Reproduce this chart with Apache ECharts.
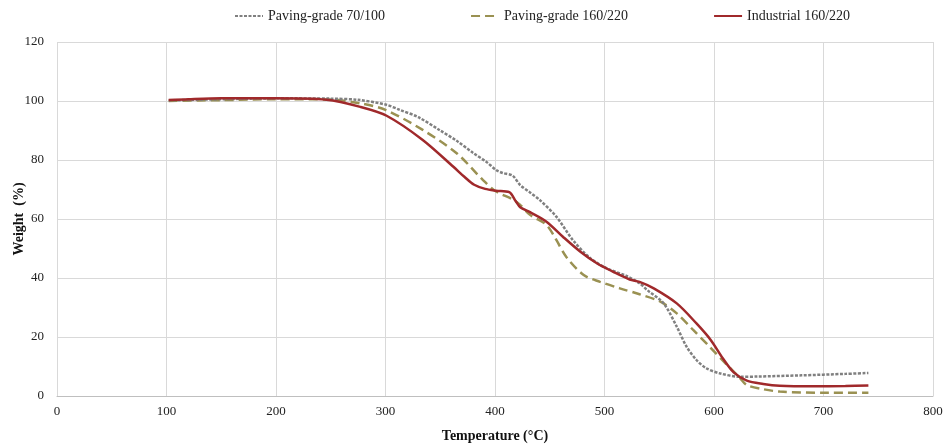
<!DOCTYPE html>
<html>
<head>
<meta charset="utf-8">
<script src="https://cdn.jsdelivr.net/npm/echarts@6/dist/echarts.min.js"></script>
<style>
    html, body { margin: 0; padding: 0; background: #fff; }
    #chart { width: 944px; height: 446px; }
</style>
</head>
<body>
<div id="chart"></div>
<script>
// TGA curves
const seriesNames = ['Paving-grade 70/100', 'Paving-grade 160/220', 'Industrial 160/220']

const tempPaving70 = [102, 150, 200, 250, 275, 300, 313, 330, 350, 365, 380, 392, 401, 407, 416, 423, 432, 441, 456, 471, 487, 502, 520, 532, 539, 554, 566, 575, 584, 593, 605, 624, 640, 680, 720, 741]
const weightPaving70 = [100.2, 100.6, 100.9, 100.8, 100.4, 98.8, 97, 94.5, 90, 86.5, 82.4, 79.4, 76.6, 75.6, 74.7, 71.5, 69, 66.4, 60.8, 52.9, 46.7, 43.3, 40.7, 38.2, 35.9, 31.4, 23.5, 16.7, 12.2, 9.4, 7.7, 6.5, 6.6, 7, 7.5, 7.8]

const tempPaving160 = [102, 150, 200, 250, 277, 300, 334, 365, 389, 401, 416, 423, 432, 447, 456, 465, 481, 496, 514, 532, 551, 566, 581, 596, 612, 624, 630, 645, 660, 700, 741]
const weightPaving160 = [100, 100.3, 100.6, 100.5, 99.2, 97, 90.2, 82.3, 73.2, 69.3, 66.7, 64.8, 61.4, 58, 52.9, 47.2, 41, 38.7, 36.5, 34.5, 32, 28, 22.4, 16.7, 10.5, 6, 3.7, 2.3, 1.5, 1.1, 1.1]

const tempIndustrial = [102, 120, 150, 200, 246, 277, 301, 334, 362, 372, 381, 391, 401, 413, 419, 423, 432, 447, 462, 478, 493, 508, 523, 532, 545, 566, 584, 597, 608, 618, 630, 645, 660, 690, 720, 741]
const weightIndustrial = [100.3, 100.6, 100.9, 100.9, 100.4, 98, 95, 86.8, 77.7, 74.3, 71.6, 70.2, 69.6, 69.1, 66, 64, 62.3, 59.1, 54, 48.9, 45, 42.1, 39.5, 38.7, 36.5, 31.4, 24.6, 19, 12.8, 8, 5.2, 4.1, 3.5, 3.3, 3.4, 3.6]

const xTicks = { min: 0, max: 800, interval: 100 }
const yTicks = { min: 0, max: 120, interval: 20 }

const pair = (xs, ys) => xs.map((x, i) => [x, ys[i]])

const font = '"Liberation Serif", "Times New Roman", serif'

const chart = echarts.init(document.getElementById('chart'))
chart.setOption({
    animation: false,
    textStyle: { fontFamily: font },
    legend: {
        top: 4,
        left: 229,
        itemGap: 85,
        itemWidth: 28,
        itemHeight: 10,
        itemStyle: { opacity: 0 },
        textStyle: { fontFamily: font, fontSize: 14, color: '#222' },
        data: seriesNames
    },
    grid: { left: 57, right: 11, top: 42, bottom: 50, outerBoundsMode: 'none', containLabel: false },
    xAxis: {
        type: 'value',
        min: xTicks.min,
        max: xTicks.max,
        interval: xTicks.interval,
        name: 'Temperature (°C)',
        nameLocation: 'middle',
        nameGap: 33,
        nameMoveOverlap: false,
        nameTextStyle: { fontFamily: font, fontSize: 14, fontWeight: 'bold', color: '#111' },
        axisLine: { lineStyle: { color: '#bfbfbf' } },
        axisTick: { show: false },
        axisLabel: { fontFamily: font, fontSize: 13, color: '#222', margin: 9 },
        splitLine: { show: true, lineStyle: { color: '#d9d9d9', width: 1 } }
    },
    yAxis: {
        type: 'value',
        min: yTicks.min,
        max: yTicks.max,
        interval: yTicks.interval,
        name: 'Weight  (%)',
        nameLocation: 'middle',
        nameGap: 31,
        nameMoveOverlap: false,
        nameTextStyle: { fontFamily: font, fontSize: 14, fontWeight: 'bold', color: '#111' },
        axisLine: { show: false },
        axisTick: { show: false },
        axisLabel: { fontFamily: font, fontSize: 13, color: '#222', margin: 13 },
        splitLine: { show: true, lineStyle: { color: '#d9d9d9', width: 1 } }
    },
    series: [
        {
            name: seriesNames[0],
            type: 'line',
            data: pair(tempPaving70, weightPaving70),
            smooth: 0.3,
            symbol: 'none',
            color: '#808080',
            lineStyle: { width: 2.5, type: [3, 1.5], color: '#808080' },
            z: 3
        },
        {
            name: seriesNames[1],
            type: 'line',
            data: pair(tempPaving160, weightPaving160),
            smooth: 0.3,
            symbol: 'none',
            color: '#9a9152',
            lineStyle: { width: 2.5, type: [9, 5], color: '#9a9152' },
            z: 2
        },
        {
            name: seriesNames[2],
            type: 'line',
            data: pair(tempIndustrial, weightIndustrial),
            smooth: 0.3,
            symbol: 'none',
            color: '#a0292b',
            lineStyle: { width: 2.5, color: '#a0292b' },
            z: 4
        }
    ]
})
</script>
</body>
</html>
